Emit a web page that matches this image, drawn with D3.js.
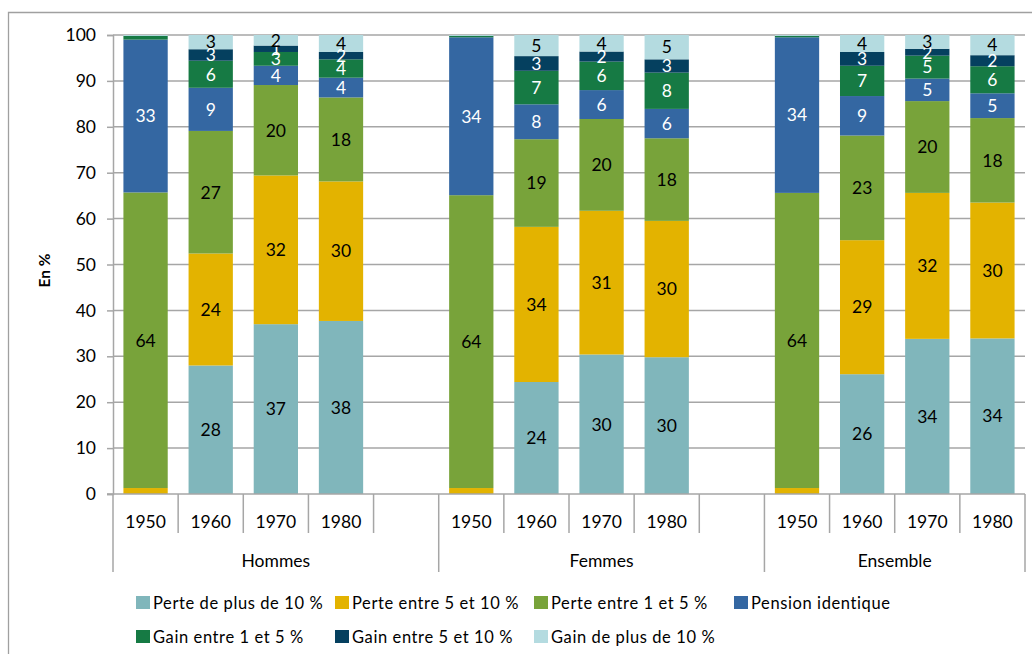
<!DOCTYPE html>
<html><head><meta charset="utf-8">
<script src="https://cdn.jsdelivr.net/npm/d3@7"></script>
<style>body{margin:0;background:#fff}svg{display:block;font-family:Lato,"Open Sans",sans-serif}</style>
</head><body><svg id="c" width="1032" height="654"></svg>
<script>
const groups = ["Hommes", "Femmes", "Ensemble"];
const years = ["1950", "1960", "1970", "1980"];
const seriesNames = ["Perte de plus de 10 %", "Perte entre 5 et 10 %", "Perte entre 1 et 5 %", "Pension identique", "Gain entre 1 et 5 %", "Gain entre 5 et 10 %", "Gain de plus de 10 %"];
const colors = ["#80b6bb", "#e3b300", "#78a33a", "#3467a2", "#167a44", "#05405f", "#b4dbe0"];
const labelColors = ["#000", "#000", "#000", "#fff", "#fff", "#fff", "#000"];
// values per series: order Hommes 1950..1980, Femmes 1950..1980, Ensemble 1950..1980
const perteplus10 = [0, 28.0, 37.0, 37.7, 0, 24.4, 30.4, 29.8, 0, 26.1, 33.8, 33.9];
const perte5_10   = [1.3, 24.4, 32.4, 30.4, 1.3, 33.8, 31.3, 29.7, 1.3, 29.2, 31.8, 29.6];
const perte1_5    = [64.4, 26.7, 19.7, 18.3, 63.8, 19.1, 20.0, 18.0, 64.3, 22.8, 20.0, 18.4];
const identique   = [33.3, 9.4, 4.2, 4.3, 34.4, 7.6, 6.3, 6.4, 33.9, 8.6, 4.9, 5.4];
const gain1_5     = [0.8, 5.9, 3.0, 4.0, 0.3, 7.3, 6.2, 7.9, 0.3, 6.6, 5.0, 5.9];
const gain5_10    = [0.0, 2.5, 1.4, 1.6, 0.0, 3.2, 2.2, 2.9, 0.0, 3.0, 1.5, 2.4];
const gainplus10  = [0.2, 3.1, 2.3, 3.7, 0.2, 4.6, 3.6, 5.3, 0.2, 3.7, 3.0, 4.4];
const yTicks = [0, 10, 20, 30, 40, 50, 60, 70, 80, 90, 100];

const seriesVals = [perteplus10, perte5_10, perte1_5, identique, gain1_5, gain5_10, gainplus10];

// slots: each group's years, plus an empty slot between groups
const slots = [];
groups.forEach((g, gi) => {
  years.forEach(y => slots.push({key: g + "-" + y, group: g, year: y}));
  if (gi < groups.length - 1) slots.push({key: g + "-gap", group: g, year: null});
});
const rows = [];
groups.forEach((g, gi) => years.forEach((y, yi) => {
  const r = {key: g + "-" + y, group: g, year: y};
  seriesNames.forEach((s, si) => r[s] = seriesVals[si][gi * years.length + yi]);
  rows.push(r);
}));

const svg = d3.select("#c");
const L = 113, R = 1025, T = 35, B = 494;
const x = d3.scaleBand().domain(slots.map(d => d.key)).range([L, R]).paddingInner(0.32).paddingOuter(0.16);
const y = d3.scaleLinear().domain([0, 100]).range([B, T]);
const step = x.step();
const FS = 17.5;

// outer frame
svg.append("path").attr("d", "M8.5,660 V12.5 H1040").attr("fill", "none").attr("stroke", "#a0a0a0").attr("stroke-width", 1.3);

// gridlines
svg.append("g").selectAll("line").data(yTicks.filter(t => t > 0)).join("line")
  .attr("x1", L).attr("x2", R).attr("y1", d => y(d)).attr("y2", d => y(d))
  .attr("stroke", "#a6a6a6").attr("stroke-width", 1.5);

// y axis
const yAxis = svg.append("g").attr("transform", `translate(${L},0)`)
  .call(d3.axisLeft(y).tickValues(yTicks).tickSize(6).tickPadding(11));
yAxis.select(".domain").attr("stroke", "#a6a6a6").attr("stroke-width", 1.5);
yAxis.selectAll(".tick line").attr("stroke", "#a6a6a6").attr("stroke-width", 1.5);
yAxis.selectAll("text").attr("font-size", FS).attr("fill", "#000").attr("font-family", "Lato");

svg.append("text").attr("transform", `translate(50,${(T + B) / 2 + 6}) rotate(-90)`)
  .attr("text-anchor", "middle").attr("font-weight", "bold").attr("font-size", 15.5).text("En %");

// stacked bars
const stack = d3.stack().keys(seriesNames)(rows);
const layers = svg.append("g").selectAll("g").data(stack).join("g").attr("fill", (d, i) => colors[i]);
layers.selectAll("rect").data(d => d).join("rect")
  .attr("x", d => x(d.data.key)).attr("width", x.bandwidth())
  .attr("y", d => y(d[1])).attr("height", d => y(d[0]) - y(d[1]));

// labels
const lab = svg.append("g").attr("font-size", FS).attr("text-anchor", "middle");
stack.forEach((layer, si) => {
  layer.forEach(d => {
    const v = d[1] - d[0];
    if (v < 0.95) return;
    if (d.data.year === "1950" && v < 10) return;
    lab.append("text").attr("x", x(d.data.key) + x.bandwidth() / 2)
      .attr("y", y((d[0] + d[1]) / 2)).attr("dy", "0.36em")
      .attr("fill", labelColors[si]).text(Math.round(v));
  });
});

// x axis baseline
svg.append("line").attr("x1", L - 6).attr("x2", R).attr("y1", B).attr("y2", B).attr("stroke", "#a6a6a6").attr("stroke-width", 1.5);
// category separators
const boundaries = d3.range(slots.length + 1).map(i => L + i * step);
const groupIdx = [0, 5, 10, 14];
svg.append("g").selectAll("line").data(boundaries).join("line")
  .attr("x1", d => d).attr("x2", d => d).attr("y1", B)
  .attr("y2", (d, i) => groupIdx.includes(i) ? 572 : 533)
  .attr("stroke", "#a6a6a6").attr("stroke-width", 1.5);
// year labels
svg.append("g").selectAll("text").data(slots.filter(s => s.year)).join("text")
  .attr("x", d => x(d.key) + x.bandwidth() / 2).attr("y", 522).attr("dy", "0.36em")
  .attr("text-anchor", "middle").attr("font-size", FS).text(d => d.year);
// group labels
svg.append("g").selectAll("text").data(groups).join("text")
  .attr("x", (d, i) => (boundaries[groupIdx[i]] + boundaries[groupIdx[i + 1]]) / 2).attr("y", 561).attr("dy", "0.36em")
  .attr("text-anchor", "middle").attr("font-size", FS).text(d => d);

// legend
const legX = [136, 335, 534, 734];
const leg = svg.append("g").selectAll("g").data(seriesNames).join("g")
  .attr("transform", (d, i) => `translate(${legX[i % 4]},${i < 4 ? 603 : 637})`);
leg.append("rect").attr("x", 0).attr("y", -7).attr("width", 14).attr("height", 13).attr("fill", (d, i) => colors[i]);
leg.append("text").attr("x", 17).attr("dy", "0.36em").attr("font-size", 16.5).attr("letter-spacing", 0.6).text(d => d);
</script></body></html>
